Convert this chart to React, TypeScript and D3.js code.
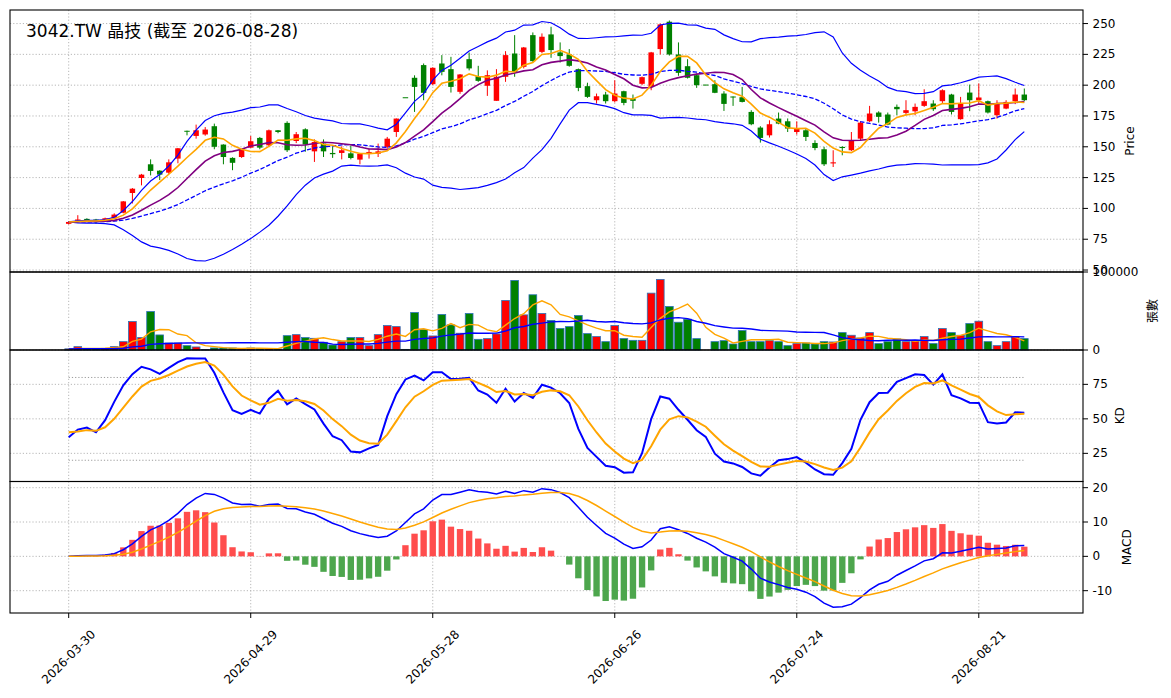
import React from "react";
import * as d3 from "d3";

// trading days shown on the chart (TW holidays 04-03, 04-06, 05-01, 06-19 are skipped)
const dates = (
  "2026-03-30 2026-03-31 2026-04-01 2026-04-02 2026-04-07 2026-04-08 2026-04-09 2026-04-10 " +
  "2026-04-13 2026-04-14 2026-04-15 2026-04-16 2026-04-17 2026-04-20 2026-04-21 2026-04-22 " +
  "2026-04-23 2026-04-24 2026-04-27 2026-04-28 2026-04-29 2026-04-30 2026-05-04 2026-05-05 " +
  "2026-05-06 2026-05-07 2026-05-08 2026-05-11 2026-05-12 2026-05-13 2026-05-14 2026-05-15 " +
  "2026-05-18 2026-05-19 2026-05-20 2026-05-21 2026-05-22 2026-05-25 2026-05-26 2026-05-27 " +
  "2026-05-28 2026-05-29 2026-06-01 2026-06-02 2026-06-03 2026-06-04 2026-06-05 2026-06-08 " +
  "2026-06-09 2026-06-10 2026-06-11 2026-06-12 2026-06-15 2026-06-16 2026-06-17 2026-06-18 " +
  "2026-06-22 2026-06-23 2026-06-24 2026-06-25 2026-06-26 2026-06-29 2026-06-30 2026-07-01 " +
  "2026-07-02 2026-07-03 2026-07-06 2026-07-07 2026-07-08 2026-07-09 2026-07-10 2026-07-13 " +
  "2026-07-14 2026-07-15 2026-07-16 2026-07-17 2026-07-20 2026-07-21 2026-07-22 2026-07-23 " +
  "2026-07-24 2026-07-27 2026-07-28 2026-07-29 2026-07-30 2026-07-31 2026-08-03 2026-08-04 " +
  "2026-08-05 2026-08-06 2026-08-07 2026-08-10 2026-08-11 2026-08-12 2026-08-13 2026-08-14 " +
  "2026-08-17 2026-08-18 2026-08-19 2026-08-20 2026-08-21 2026-08-24 2026-08-25 2026-08-26 " +
  "2026-08-27 2026-08-28"
).split(" ");

const opens = [
  87.5, 90, 91.5, 91, 89.5, 92, 96.5, 112.5, 124.7, 135.8,
  130.6, 129, 140.4, 163, 158.8, 160, 166.7, 151.8, 141, 141.7,
  149.3, 157.2, 151.2, 163.4, 169.4, 154.7, 164.2, 146.3, 152.6, 145,
  145, 144.7, 139.6, 144.4, 144.4, 149.9, 162, 190.2, 206, 216.3,
  200.8, 217.6, 213, 194.6, 221.1, 207.3, 199.5, 187.3, 206.8, 225.7,
  214.9, 240.6, 227, 241.2, 226.6, 224.9, 213, 199.2, 187.8, 192.4,
  187, 195.1, 189.2, 201.1, 198.6, 229.3, 251.5, 224.9, 215.4, 208.1,
  200.5, 200.8, 193.2, 190.8, 190.2, 178.3, 165.6, 159.3, 172.9, 170.7,
  162, 163.4, 153.1, 148, 136.5, 149.9, 147.2, 156.6, 170.7, 177.8,
  176.2, 182.4, 177.5, 178.8, 183.2, 185.1, 187, 192.4, 172.4, 194,
  187.8, 187, 175.6, 181, 187, 192.4,
];
const highs = [
  89.5, 94.5, 92, 91.5, 92.5, 96, 106, 116.5, 128, 139.8,
  131, 139.8, 149, 163.1, 168, 166, 168.8, 152, 141.5, 148,
  158.8, 158, 164, 163.6, 170.7, 162, 165, 156, 156, 150,
  150.4, 151, 145, 148.5, 152.6, 158, 173, 190.2, 208, 217.6,
  214.5, 224.4, 223, 209, 226.5, 215.7, 212, 213, 227.6, 240.6,
  231, 242.8, 242, 247.4, 234.7, 229.3, 213.5, 202, 193.2, 194.6,
  204, 195.5, 192.4, 207, 227, 250, 252.5, 234.7, 221.1, 209.5,
  200.5, 204, 195.1, 190.8, 198.6, 179.7, 166.7, 171.5, 177.8, 173,
  170.7, 164.8, 155.3, 150, 147.2, 150.4, 162, 170.7, 183.2, 178.8,
  177.8, 184.3, 187.8, 185.1, 196.7, 187.8, 196.7, 193, 190.5, 200.5,
  201.4, 187.5, 187.8, 187.8, 197.3, 197.3,
];
const lows = [
  87, 89, 90, 87.5, 89, 91.5, 96, 104, 118.7, 126.8,
  123, 128, 136.6, 159.3, 156.6, 159, 148, 135.8, 131, 141,
  149, 148, 150.5, 161, 145.8, 153, 146, 137.7, 141.7, 141,
  139.8, 139.8, 135.8, 140.4, 141.7, 148.5, 158, 190.2, 178.3, 187.8,
  200, 208, 194, 193, 212, 202.7, 191.3, 187.3, 202.7, 206.8,
  213.6, 219, 226, 222.2, 218.4, 215, 195.1, 189.7, 185.1, 185.1,
  186, 183.7, 181, 200, 195.9, 224.9, 224, 207.6, 205.4, 197.8,
  200.5, 193.5, 179.1, 183.2, 186, 167.5, 153.4, 157.5, 168.3, 162,
  159.9, 154.7, 147.2, 134.4, 133.6, 143.1, 146.5, 155.3, 170, 169.6,
  167.5, 175.6, 175.6, 175.6, 182.4, 179.1, 185.1, 176.2, 172, 178.9,
  185.1, 177, 172.9, 180.5, 184.6, 187,
];
const closes = [
  89, 91, 90.5, 89.5, 92, 95, 105.7, 116, 127.4, 130.4,
  127.4, 137.4, 148.8, 162.7, 163.4, 164, 150, 141.7, 137, 147.7,
  154.5, 149.3, 163.4, 162, 147.2, 160.2, 151.8, 153.9, 146.3, 144,
  147.2, 140.9, 144.4, 145.8, 146.3, 156.6, 172.9, 190.2, 198.6, 193.8,
  214.1, 210.8, 198.6, 208.7, 213.6, 203.5, 208.1, 206.8, 224.4, 210.8,
  230.6, 219.5, 239.3, 228.5, 223.6, 215.7, 197.8, 190.5, 191, 187,
  193.2, 185.6, 187.3, 206.5, 226.6, 249.3, 224.9, 210, 206, 200,
  200.5, 193.8, 184.8, 190, 186.4, 168.3, 157.2, 168.3, 168.8, 164.8,
  164.8, 158, 149, 135.8, 137.4, 149, 155.3, 169.6, 177, 174.3,
  168, 180.5, 179.7, 182.4, 187, 180.5, 195.9, 178.3, 185.1, 187.8,
  190, 177.8, 185.1, 186.4, 192.4, 187.8,
];
// 張數
const volumes = [
  1500, 4300, 1700, 1700, 2100, 4300, 10700, 36500, 15900, 49300,
  19300, 9000, 9000, 5600, 3900, 500, 2600, 2600, 2600, 1700,
  2600, 1700, 1700, 1300, 18400, 19700, 15900, 15000, 9900, 6400,
  10700, 15900, 15900, 5600, 19700, 31300, 30000, 800, 48000, 26200,
  18000, 45500, 32200, 21500, 46800, 13700, 14600, 20600, 63500, 89200,
  45000, 70800, 46800, 37800, 27500, 30000, 44200, 21000, 17200, 10700,
  31300, 14600, 12400, 12400, 72900, 90500, 55800, 35600, 39500, 14600,
  0, 10700, 12000, 7700, 24900, 10700, 10700, 12000, 10700, 5600,
  8200, 9000, 7700, 10700, 10300, 22300, 18900, 15400, 22300, 8200,
  10700, 14200, 10700, 11600, 17200, 8200, 27500, 22300, 18900, 33900,
  36900, 10700, 5600, 10700, 17200, 14600,
];

const tickIndex = [0, 20, 40, 60, 80, 100];
const priceTicks = [50, 75, 100, 125, 150, 175, 200, 225, 250];
const volumeTicks = [0, 100000];
const kdTicks = [25, 50, 75];
const kdRefLines = [20, 80];
const macdTicks = [-10, 0, 10, 20];
const kdSeed = [15, 42]; // K, D state before the first bar

const FONT = "'DejaVu Sans', 'Noto Sans CJK TC', sans-serif";
const W = 1171;
const H = 698;
const LEFT = 10;
const RIGHT = 1083;

// moving average, values before the first bar taken as the first bar
function sma(src: number[], n: number) {
  return src.map((_, i) => {
    let s = 0;
    for (let k = i - n + 1; k <= i; k++) s += src[Math.max(k, 0)];
    return s / n;
  });
}

function bollinger(src: number[], n: number, m: number) {
  const mid = sma(src, n);
  const up: number[] = [];
  const lo: number[] = [];
  src.forEach((_, i) => {
    let ss = 0;
    for (let k = i - n + 1; k <= i; k++) ss += (src[Math.max(k, 0)] - mid[i]) ** 2;
    const sd = Math.sqrt(ss / (n - 1));
    up.push(mid[i] + m * sd);
    lo.push(mid[i] - m * sd);
  });
  return { mid, up, lo };
}

function ema(src: number[], n: number) {
  const a = 2 / (n + 1);
  let prev = src[0];
  return src.map((v) => (prev = prev + a * (v - prev)));
}

function stochastic(n: number) {
  let k = kdSeed[0];
  let d = kdSeed[1];
  const K: number[] = [];
  const D: number[] = [];
  closes.forEach((c, i) => {
    let hh = -Infinity;
    let ll = Infinity;
    for (let j = i - n + 1; j <= i; j++) {
      hh = Math.max(hh, highs[Math.max(j, 0)]);
      ll = Math.min(ll, lows[Math.max(j, 0)]);
    }
    const rsv = hh === ll ? 50 : ((c - ll) / (hh - ll)) * 100;
    k = (2 / 3) * k + rsv / 3;
    d = (2 / 3) * d + k / 3;
    K.push(k);
    D.push(d);
  });
  return { K, D };
}

const ma5 = sma(closes, 5);
const ma10 = sma(closes, 10);
const bb = bollinger(closes, 20, 2);
const volMa5 = sma(volumes, 5);
const volMa20 = sma(volumes, 20);
const { K, D } = stochastic(9);
const ema12 = ema(closes, 12);
const ema26 = ema(closes, 26);
const dif = ema12.map((v, i) => v - ema26[i]);
const dea = ema(dif, 9);
const osc = dif.map((v, i) => 2 * (v - dea[i]));

const panels = {
  price: { top: 10, bottom: 272 },
  vol: { top: 272, bottom: 350 },
  kd: { top: 350, bottom: 481.5 },
  macd: { top: 481.5, bottom: 613 },
};

const x = d3.scaleLinear().domain([-6.45, 111.45]).range([LEFT, RIGHT]);
const step = x(1) - x(0);
const yPrice = d3.scaleLinear().domain([48.4, 261]).range([panels.price.bottom, panels.price.top]);
const yVol = d3.scaleLinear().domain([0, 100000]).range([panels.vol.bottom, panels.vol.top]);
const yKd = d3.scaleLinear().domain([4.6, 99.9]).range([panels.kd.bottom, panels.kd.top]);
const yMacd = d3.scaleLinear().domain([-16.5, 21.8]).range([panels.macd.bottom, panels.macd.top]);

function path(vals: number[], y: d3.ScaleLinear<number, number>) {
  return d3.line<number>().x((_, i) => x(i)).y((v) => y(v))(vals) || "";
}

const RED = "#ff0000";
const GREEN = "#008000";

function Grid({ top, bottom, ticks, y }: any) {
  return (
    <g stroke="#b0b0b0" strokeWidth={0.9} strokeDasharray="1.2,2">
      {tickIndex.map((t) => (
        <line key={"v" + t} x1={x(t)} x2={x(t)} y1={top} y2={bottom} />
      ))}
      {ticks.map((t: number) => (
        <line key={"h" + t} x1={LEFT} x2={RIGHT} y1={y(t)} y2={y(t)} />
      ))}
    </g>
  );
}

function RightAxis({ ticks, y, label, labelX, top, bottom }: any) {
  return (
    <g fontFamily={FONT} fontSize={12} fill="#000">
      {ticks.map((t: number) => (
        <g key={t}>
          <line x1={RIGHT} x2={RIGHT + 5} y1={y(t)} y2={y(t)} stroke="#000" strokeWidth={1} />
          <text x={RIGHT + 9.5} y={y(t)} dominantBaseline="central">
            {t}
          </text>
        </g>
      ))}
      <text
        transform={`translate(${labelX},${(top + bottom) / 2}) rotate(-90)`}
        textAnchor="middle"
        dominantBaseline="central"
      >
        {label}
      </text>
    </g>
  );
}

export default function App() {
  const bodyW = step * 0.6;
  const volW = step * 0.85;
  const histW = step * 0.7;
  return (
    <svg
      width={W}
      height={H}
      viewBox={`0 0 ${W} ${H}`}
      style={{ position: "absolute", left: 0, top: 0, background: "#fff" }}
    >
      <rect x={0} y={0} width={W} height={H} fill="#fff" />

      <Grid {...panels.price} ticks={priceTicks} y={yPrice} />
      <Grid {...panels.vol} ticks={volumeTicks} y={yVol} />
      <Grid {...panels.kd} ticks={kdTicks} y={yKd} />
      <Grid {...panels.macd} ticks={macdTicks} y={yMacd} />

      {/* price panel */}
      <g>
        {closes.map((c, i) => {
          const o = opens[i];
          const col = c > o ? RED : GREEN;
          const top = yPrice(Math.max(o, c));
          const h = Math.max(yPrice(Math.min(o, c)) - top, 1);
          return (
            <g key={i}>
              <line x1={x(i)} x2={x(i)} y1={yPrice(highs[i])} y2={yPrice(lows[i])} stroke={col} strokeWidth={1} />
              <rect x={x(i) - bodyW / 2} y={top} width={bodyW} height={h} fill={col} />
            </g>
          );
        })}
        <path d={path(bb.up, yPrice)} fill="none" stroke="#0000ff" strokeWidth={1.2} />
        <path d={path(bb.lo, yPrice)} fill="none" stroke="#0000ff" strokeWidth={1.2} />
        <path d={path(bb.mid, yPrice)} fill="none" stroke="#0000ff" strokeWidth={1.3} strokeDasharray="4.4,1.9" />
        <path d={path(ma10, yPrice)} fill="none" stroke="#800080" strokeWidth={1.6} />
        <path d={path(ma5, yPrice)} fill="none" stroke="#ffa500" strokeWidth={1.6} />
        <text x={26} y={37} fontFamily={FONT} fontSize={17} fill="#000">
          3042.TW 晶技 (截至 2026-08-28)
        </text>
      </g>

      {/* volume panel */}
      <g>
        {volumes.map((v, i) => {
          const col = closes[i] > opens[i] ? RED : closes[i] < opens[i] ? GREEN : "#ffffff";
          return (
            <rect
              key={i}
              x={x(i) - volW / 2}
              y={yVol(v)}
              width={volW}
              height={yVol(0) - yVol(v)}
              fill={col}
              stroke="#2b72b8"
              strokeWidth={0.8}
            />
          );
        })}
        <path d={path(volMa5, yVol)} fill="none" stroke="#ffa500" strokeWidth={1.4} />
        <path d={path(volMa20, yVol)} fill="none" stroke="#0000ff" strokeWidth={1.4} />
      </g>

      {/* KD panel */}
      <g>
        {kdRefLines.map((r) => (
          <line
            key={r}
            x1={x(0)}
            x2={x(closes.length - 1)}
            y1={yKd(r)}
            y2={yKd(r)}
            stroke="#909090"
            strokeWidth={0.9}
            strokeDasharray="1.2,2"
          />
        ))}
        <path d={path(K, yKd)} fill="none" stroke="#0000ff" strokeWidth={2} />
        <path d={path(D, yKd)} fill="none" stroke="#ffa500" strokeWidth={2} />
      </g>

      {/* MACD panel */}
      <g>
        {osc.map((v, i) => (
          <rect
            key={i}
            x={x(i) - histW / 2}
            y={Math.min(yMacd(v), yMacd(0))}
            width={histW}
            height={Math.abs(yMacd(v) - yMacd(0))}
            fill={v >= 0 ? "#ff4d4d" : "#4da64d"}
          />
        ))}
        <path d={path(dif, yMacd)} fill="none" stroke="#0000ff" strokeWidth={1.5} />
        <path d={path(dea, yMacd)} fill="none" stroke="#ffa500" strokeWidth={1.5} />
      </g>

      {/* frames */}
      {Object.values(panels).map((p, i) => (
        <rect key={i} x={LEFT} y={p.top} width={RIGHT - LEFT} height={p.bottom - p.top} fill="none" stroke="#000" strokeWidth={1.1} />
      ))}

      <RightAxis ticks={priceTicks} y={yPrice} label="Price" labelX={1130} {...panels.price} />
      <RightAxis ticks={volumeTicks} y={yVol} label="張數" labelX={1153} {...panels.vol} />
      <RightAxis ticks={kdTicks} y={yKd} label="KD" labelX={1120} {...panels.kd} />
      <RightAxis ticks={macdTicks} y={yMacd} label="MACD" labelX={1127} {...panels.macd} />

      {/* date axis */}
      <g fontFamily={FONT} fontSize={12} fill="#000">
        {tickIndex.map((t) => (
          <g key={t}>
            <line x1={x(t)} x2={x(t)} y1={panels.macd.bottom} y2={panels.macd.bottom + 5} stroke="#000" strokeWidth={1} />
            <text
              transform={`translate(${x(t)},${657}) rotate(-45)`}
              textAnchor="middle"
              dominantBaseline="central"
            >
              {dates[t]}
            </text>
          </g>
        ))}
      </g>
    </svg>
  );
}
